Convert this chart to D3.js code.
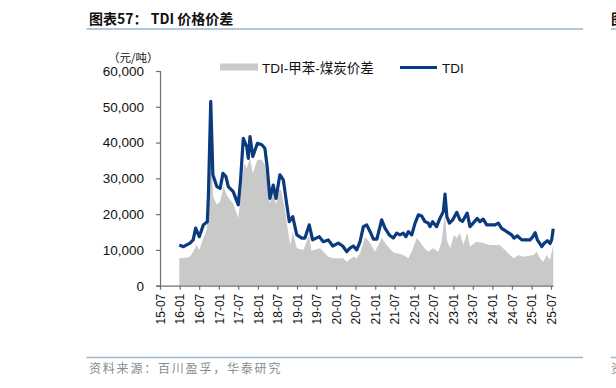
<!DOCTYPE html>
<html>
<head>
<meta charset="utf-8">
<script src="https://cdn.jsdelivr.net/npm/d3@7"></script>
<style>
  body { margin: 0; background: #fff; }
  svg { display: block; }
</style>
</head>
<body>
<script>
// TDI price and TDI - toluene - coal spread, yuan/ton

var width = 616,
	height = 388;

// TDI price [date, value]
var tdiPts = [
	["2015-12-28", 11400], ["2016-02-05", 10900], ["2016-04-06", 11900], ["2016-05-06", 12800],
	["2016-05-29", 16100], ["2016-07-02", 13700], ["2016-08-09", 17000], ["2016-09-15", 17900],
	["2016-09-25", 24900], ["2016-10-17", 51500], ["2016-11-06", 31000], ["2016-12-13", 27700],
	["2017-01-13", 27200], ["2017-02-08", 31400], ["2017-03-08", 30500], ["2017-03-30", 27700],
	["2017-05-15", 26300], ["2017-07-01", 22600], ["2017-07-23", 29600], ["2017-08-17", 41200],
	["2017-09-18", 38900], ["2017-10-03", 35600], ["2017-10-19", 41700], ["2017-11-14", 36100],
	["2017-12-27", 39800], ["2018-02-06", 39400], ["2018-03-07", 38400], ["2018-03-28", 33300],
	["2018-04-23", 24400], ["2018-05-24", 28100], ["2018-06-19", 24400], ["2018-07-25", 31000],
	["2018-08-26", 29600], ["2018-09-26", 23000], ["2018-10-21", 17900], ["2018-11-22", 19300],
	["2018-12-30", 14200], ["2019-02-15", 13300], ["2019-03-16", 13300], ["2019-04-25", 17000],
	["2019-05-27", 12800], ["2019-07-28", 13700], ["2019-09-04", 12300], ["2019-10-20", 12800],
	["2019-12-01", 11100], ["2020-01-22", 11900], ["2020-03-03", 11100], ["2020-04-09", 9500],
	["2020-05-10", 10500], ["2020-06-10", 11100], ["2020-07-12", 10000], ["2020-08-12", 12300],
	["2020-09-12", 16500], ["2020-10-13", 17000], ["2020-11-14", 15100], ["2020-12-15", 13000],
	["2021-01-16", 13000], ["2021-03-02", 18400], ["2021-04-02", 16100], ["2021-05-12", 14200],
	["2021-06-19", 13300], ["2021-07-20", 14700], ["2021-08-20", 14200], ["2021-09-20", 14700],
	["2021-10-15", 13700], ["2021-11-06", 15100], ["2021-12-08", 14200], ["2022-01-08", 17500],
	["2022-02-08", 19800], ["2022-03-10", 19500], ["2022-04-10", 17900], ["2022-05-11", 17500],
	["2022-05-27", 16500], ["2022-06-21", 17900], ["2022-07-28", 16500], ["2022-08-28", 18800],
	["2022-09-29", 20700], ["2022-10-15", 25600], ["2022-11-01", 19300], ["2022-11-25", 17500],
	["2022-12-26", 18400], ["2023-02-02", 20500], ["2023-03-03", 18400], ["2023-03-28", 18000],
	["2023-05-10", 20300], ["2023-06-05", 16500], ["2023-07-05", 17500], ["2023-08-12", 18800],
	["2023-09-06", 17900], ["2023-10-07", 18600], ["2023-11-08", 17000], ["2023-12-09", 17000],
	["2024-01-25", 17000], ["2024-02-25", 17500], ["2024-03-27", 16000], ["2024-05-13", 15100],
	["2024-06-29", 14200], ["2024-07-20", 13300], ["2024-08-21", 13900], ["2024-10-01", 12800],
	["2024-11-17", 12800], ["2024-12-17", 12800], ["2025-01-12", 13700], ["2025-02-03", 14800],
	["2025-02-24", 12800], ["2025-04-06", 10900], ["2025-04-27", 11800], ["2025-05-28", 12600],
	["2025-06-22", 11800], ["2025-07-07", 12800], ["2025-07-22", 15900]
];

// TDI - toluene - coal spread [date, value]
var spreadPts = [
	["2015-12-28", 7700], ["2016-02-20", 7800], ["2016-04-06", 8100], ["2016-05-06", 9500],
	["2016-06-06", 11400], ["2016-07-02", 10000], ["2016-08-09", 13300], ["2016-09-10", 15600],
	["2016-10-01", 25400], ["2016-10-17", 44000], ["2016-11-08", 24900], ["2016-12-13", 22600],
	["2017-01-13", 23500], ["2017-02-13", 27700], ["2017-03-15", 25400], ["2017-04-15", 24000],
	["2017-05-15", 23000], ["2017-07-01", 18900], ["2017-07-23", 24900], ["2017-08-24", 34200],
	["2017-09-18", 32800], ["2017-10-19", 35600], ["2017-11-14", 31400], ["2017-12-27", 35200],
	["2018-02-06", 35200], ["2018-03-07", 33800], ["2018-04-07", 26800], ["2018-04-23", 23000],
	["2018-05-24", 26800], ["2018-06-19", 22600], ["2018-07-19", 26800], ["2018-08-05", 26800],
	["2018-09-05", 22100], ["2018-10-08", 15600], ["2018-10-30", 11400], ["2018-11-22", 15100],
	["2018-12-30", 10500], ["2019-03-01", 10000], ["2019-04-25", 14200], ["2019-05-15", 9800],
	["2019-08-05", 10500], ["2019-10-20", 8100], ["2019-12-05", 7700], ["2020-03-05", 7700],
	["2020-04-09", 6700], ["2020-06-10", 8100], ["2020-07-12", 7700], ["2020-08-12", 9100],
	["2020-09-28", 13700], ["2020-11-14", 11900], ["2020-12-30", 9500], ["2021-03-02", 13300],
	["2021-04-17", 11400], ["2021-06-19", 9300], ["2021-08-05", 9000], ["2021-09-20", 8600],
	["2021-11-06", 7700], ["2021-12-08", 9500], ["2022-01-23", 13300], ["2022-02-23", 12300],
	["2022-03-25", 10900], ["2022-05-11", 9500], ["2022-06-26", 10500], ["2022-08-13", 9500],
	["2022-09-13", 12300], ["2022-10-15", 20300], ["2022-11-01", 12800], ["2022-12-01", 10500],
	["2023-01-08", 14200], ["2023-02-02", 13300], ["2023-03-03", 14700], ["2023-04-04", 11400],
	["2023-05-10", 14700], ["2023-06-05", 10900], ["2023-08-05", 12300], ["2023-10-07", 11900],
	["2023-12-09", 11400], ["2024-03-10", 11400], ["2024-04-26", 10000], ["2024-06-12", 8600],
	["2024-07-20", 7700], ["2024-08-30", 8600], ["2024-10-17", 8100], ["2025-01-18", 8600],
	["2025-02-18", 9500], ["2025-03-20", 7700], ["2025-04-21", 6700], ["2025-05-22", 8600],
	["2025-06-22", 7200], ["2025-07-22", 11400]
];

var yTicks = [0, 10000, 20000, 30000, 40000, 50000, 60000];
var xTickLabels = ["15-07", "16-01", "16-07", "17-01", "17-07", "18-01", "18-07", "19-01", "19-07",
	"20-01", "20-07", "21-01", "21-07", "22-01", "22-07", "23-01", "23-07", "24-01", "24-07",
	"25-01", "25-07"];

var seriesNames = ["TDI-甲苯-煤炭价差", "TDI"];

var parse = d3.timeParse("%Y-%m-%d");
var tdi = tdiPts.map(function(d) { return { date: parse(d[0]), value: d[1] }; });
var spread = spreadPts.map(function(d) { return { date: parse(d[0]), value: d[1] }; });
var xTickDates = xTickLabels.map(function(s) { return d3.timeParse("%y-%m")(s); });

var lineColor = "#0b3a7e",
	areaColor = "#c9c9c9",
	axisColor = "#6f6f6f",
	rule = "#9db6cf";

var svg = d3.select("body").append("svg")
	.attr("width", width)
	.attr("height", height);

// header + footer (the cut-off bits at the right edge belong to the next chart on the page)
svg.append("text")
	.attr("x", 89).attr("y", 24)
	.attr("font-family", "'Noto Sans CJK SC', 'Liberation Sans', sans-serif")
	.attr("font-size", 14).attr("font-weight", "bold").attr("fill", "#111")
	.text("图表57：  TDI 价格价差");

svg.append("line").attr("x1", 86.5).attr("x2", 583).attr("y1", 29).attr("y2", 29)
	.attr("stroke", rule).attr("stroke-width", 1.5);
svg.append("line").attr("x1", 611).attr("x2", 616).attr("y1", 29).attr("y2", 29)
	.attr("stroke", rule).attr("stroke-width", 1.5);
svg.append("text").attr("x", 611).attr("y", 24)
	.attr("font-family", "'Noto Sans CJK SC', sans-serif")
	.attr("font-size", 14).attr("font-weight", "bold").attr("fill", "#111").text("图");

svg.append("line").attr("x1", 86.5).attr("x2", 583).attr("y1", 357.5).attr("y2", 357.5)
	.attr("stroke", rule).attr("stroke-width", 1.5);
svg.append("line").attr("x1", 611).attr("x2", 616).attr("y1", 357.5).attr("y2", 357.5)
	.attr("stroke", rule).attr("stroke-width", 1.5);
svg.append("text")
	.attr("x", 89).attr("y", 373)
	.attr("font-family", "'Noto Sans CJK SC', sans-serif")
	.attr("font-size", 12).attr("letter-spacing", 1.8).attr("fill", "#8a8a8a")
	.text("资料来源：百川盈孚，华泰研究");
svg.append("text").attr("x", 611).attr("y", 373)
	.attr("font-family", "'Noto Sans CJK SC', sans-serif")
	.attr("font-size", 12).attr("fill", "#8a8a8a").text("资");

// scales
var x = d3.scaleTime()
	.domain([xTickDates[0], xTickDates[xTickDates.length - 1]])
	.range([160, 551]);

var y = d3.scaleLinear()
	.domain([0, 60000])
	.range([285.7, 71]);

// area then line
var area = d3.area()
	.x(function(d) { return x(d.date); })
	.y0(y(0))
	.y1(function(d) { return y(d.value); });

svg.append("path")
	.datum(spread)
	.attr("d", area)
	.attr("fill", areaColor);

var line = d3.line()
	.x(function(d) { return x(d.date); })
	.y(function(d) { return y(d.value); });

svg.append("path")
	.datum(tdi)
	.attr("d", line)
	.attr("fill", "none")
	.attr("stroke", lineColor)
	.attr("stroke-width", 3.2)
	.attr("stroke-linejoin", "round");

// y axis
var yAxis = svg.append("g")
	.attr("transform", "translate(160,0)")
	.call(d3.axisLeft(y)
		.tickValues(yTicks)
		.tickSize(4)
		.tickPadding(12)
		.tickFormat(d3.format(",")));

yAxis.selectAll("text")
	.attr("font-family", "'Liberation Sans', Arial, sans-serif")
	.attr("font-size", 13.5)
	.attr("fill", "#111");

// x axis
var xAxis = svg.append("g")
	.attr("transform", "translate(0," + y(0) + ")")
	.call(d3.axisBottom(x)
		.tickValues(xTickDates)
		.tickSize(4)
		.tickFormat(function(d, i) { return xTickLabels[i]; }));

xAxis.selectAll("text")
	.attr("font-family", "'Liberation Sans', Arial, sans-serif")
	.attr("font-size", 12)
	.attr("fill", "#111")
	.attr("transform", "rotate(-90)")
	.attr("text-anchor", "end")
	.attr("x", -8)
	.attr("y", 0)
	.attr("dy", "0.35em");

// x axis line runs a bit past the last tick, like the source
xAxis.select(".domain").attr("d", "M160,0.5H553.5");

svg.selectAll(".domain, .tick line")
	.attr("stroke", axisColor)
	.attr("stroke-width", 1.2);

// unit label
svg.append("text")
	.attr("x", 108).attr("y", 62)
	.attr("font-family", "'Noto Sans CJK SC', sans-serif")
	.attr("font-size", 11.5).attr("fill", "#111")
	.text("（元/吨）");

// legend
var legend = svg.append("g").attr("font-size", 13.5).attr("fill", "#111")
	.attr("font-family", "'Liberation Sans', 'Noto Sans CJK SC', sans-serif");

legend.append("rect")
	.attr("x", 220).attr("y", 63.5).attr("width", 38).attr("height", 7)
	.attr("fill", areaColor);
legend.append("text").attr("x", 262).attr("y", 72.5).text(seriesNames[0]);

legend.append("line")
	.attr("x1", 400).attr("x2", 437).attr("y1", 67.5).attr("y2", 67.5)
	.attr("stroke", lineColor).attr("stroke-width", 3);
legend.append("text").attr("x", 442).attr("y", 72.5).text(seriesNames[1]);
</script>
</body>
</html>
